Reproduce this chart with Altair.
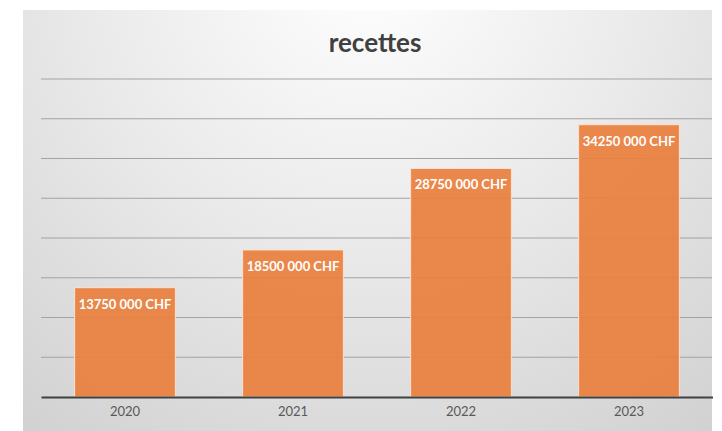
import altair as alt
import pandas as pd

TITLE = "recettes"
years = ["2020", "2021", "2022", "2023"]
recettes = [13750000, 18500000, 28750000, 34250000]
labels = ["13750 000 CHF", "18500 000 CHF", "28750 000 CHF", "34250 000 CHF"]
grid_values = [5000000, 10000000, 15000000, 20000000, 25000000, 30000000, 35000000, 40000000]

W, H = 672, 318
FONT = "Lato"

df = pd.DataFrame({"annee": years, "recettes": recettes, "label": labels})
grid_df = pd.DataFrame({"v": grid_values})
one = pd.DataFrame({"t": [TITLE]})

yscale = alt.Scale(domain=[0, 40000000], nice=False)
xscale = alt.Scale(paddingInner=0.4, paddingOuter=0.2)

bg = alt.Chart(one).mark_rect(
    fill=alt.RadialGradient(
        gradient="radial", x1=0.5, y1=0.12, x2=0.5, y2=0.12, r1=0, r2=0.95,
        stops=[alt.GradientStop(color="#ffffff", offset=0),
               alt.GradientStop(color="#e9e9e9", offset=0.45),
               alt.GradientStop(color="#cbcbcb", offset=1)]),
).encode(x=alt.value(-18), x2=alt.value(671), y=alt.value(-69), y2=alt.value(360))

title = alt.Chart(one).mark_text(
    font=FONT, fontSize=26, fontWeight="bold", color="#404040", baseline="alphabetic", align="center"
).encode(text="t:N", x=alt.value(W / 2 - 2), y=alt.value(-27))

grid = alt.Chart(grid_df).mark_rule(color="#a3a3a3", strokeWidth=1).encode(
    y=alt.Y("v:Q", scale=yscale, axis=None),
    x=alt.value(0), x2=alt.value(W - 1),
)

bars = alt.Chart(df).mark_bar(
    fill="#e9803e", fillOpacity=0.93, stroke="#fbe3d2", strokeWidth=1
).encode(
    x=alt.X("annee:N", scale=xscale, sort=years,
            axis=alt.Axis(title=None, labelAngle=0, labelFont=FONT, labelFontSize=13,
                          labelColor="#595959", labelPadding=8, ticks=False,
                          domainColor="#404040", domainWidth=2, zindex=1)),
    y=alt.Y("recettes:Q", scale=yscale, axis=None),
)

text = alt.Chart(df).mark_text(
    font=FONT, fontSize=13, fontWeight="bold", color="#ffffff", baseline="middle", dy=17
).encode(
    x=alt.X("annee:N", scale=xscale, sort=years),
    y=alt.Y("recettes:Q", scale=yscale),
    text="label:N",
)

chart = alt.layer(bg, grid, bars, text, title).properties(
    width=W, height=H,
    autosize=alt.AutoSizeParams(type="none"),
    padding={"left": 33, "top": 71, "right": 0, "bottom": 34},
    background="#ffffff",
).configure_view(stroke=None)

chart.save("out.html", embed_options={"renderer": "svg", "actions": False})
